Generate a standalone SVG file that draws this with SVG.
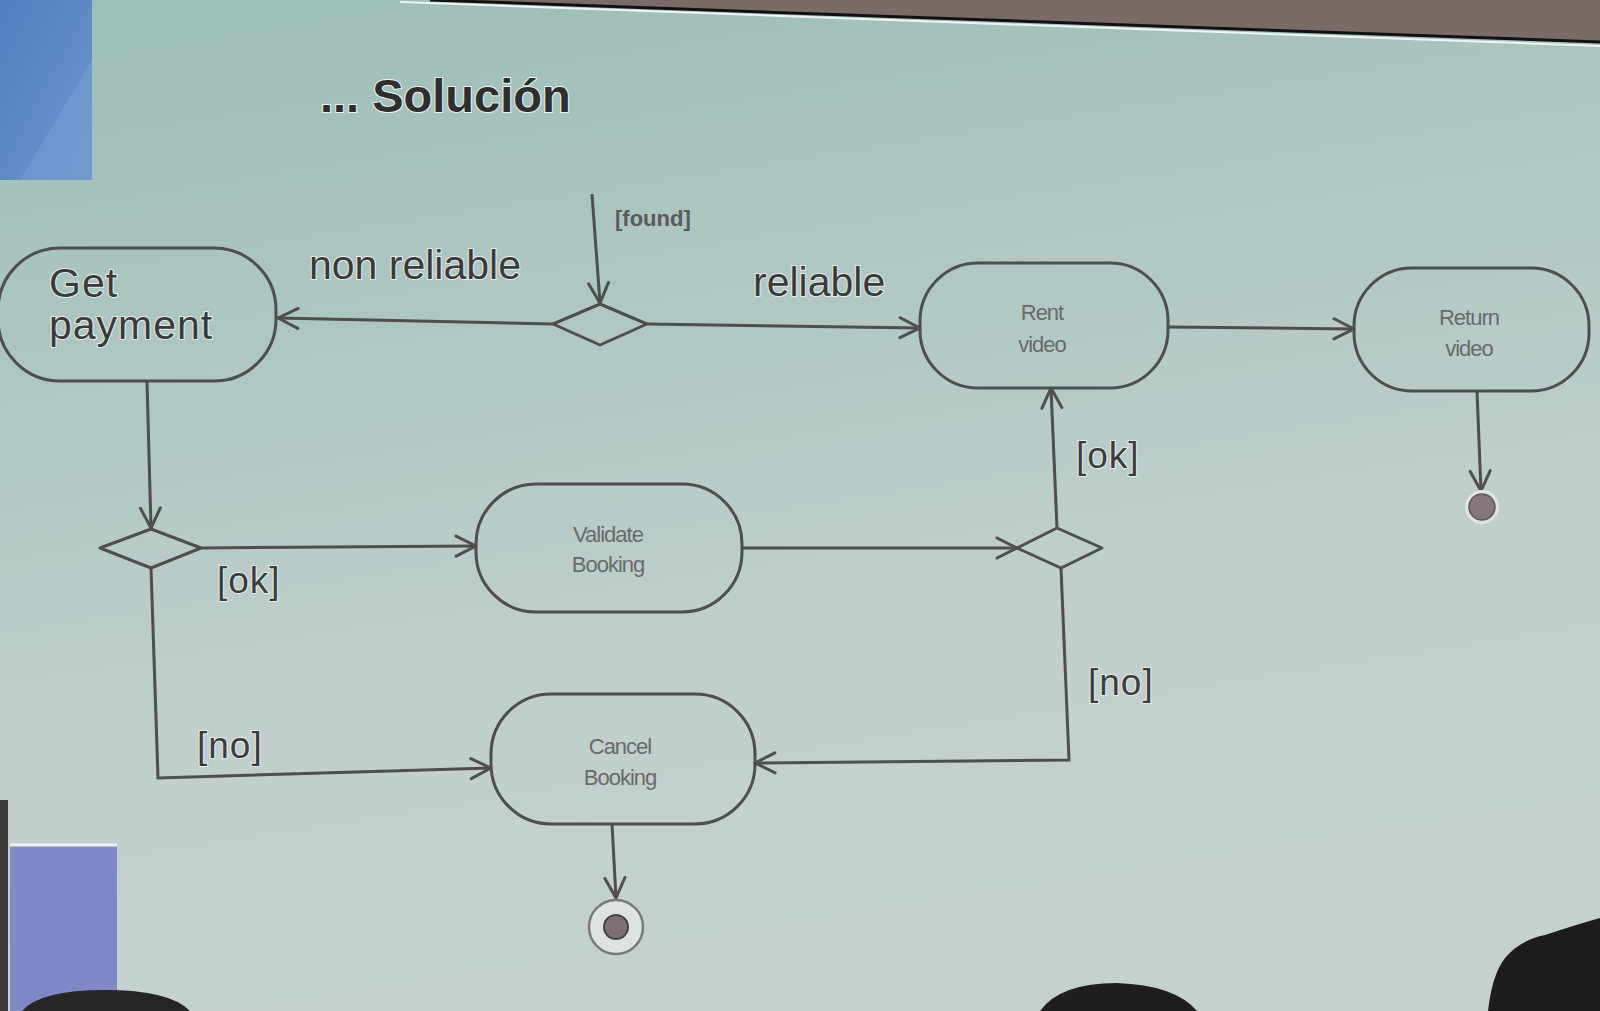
<svg xmlns="http://www.w3.org/2000/svg" width="1600" height="1011" viewBox="0 0 1600 1011">
  <defs>
    <linearGradient id="bg" x1="0" y1="0" x2="0.25" y2="1">
      <stop offset="0" stop-color="#9cbdb8"/>
      <stop offset="0.35" stop-color="#aec6c2"/>
      <stop offset="0.7" stop-color="#c0cfcc"/>
      <stop offset="1" stop-color="#c6d1cf"/>
    </linearGradient>
    <linearGradient id="blueTop" x1="0" y1="0" x2="1" y2="1">
      <stop offset="0" stop-color="#4f7fc0"/>
      <stop offset="1" stop-color="#6c95cf"/>
    </linearGradient>
    <marker id="arr" markerUnits="userSpaceOnUse" markerWidth="26" markerHeight="24" refX="23" refY="12" orient="auto">
      <path d="M3,2 L23,12 L3,22" fill="none" stroke="#4f4f4f" stroke-width="3" stroke-linejoin="round" stroke-linecap="round"/>
    </marker>
    <style>
      .node { fill: none; stroke: #4e4e4e; stroke-width: 3; }
      .dec { fill: none; stroke: #4e4e4e; stroke-width: 3; stroke-linejoin: round; }
      .edge { fill: none; stroke: #4e4e4e; stroke-width: 3; marker-end: url(#arr); }
      .big { font-family: "Liberation Sans", Arial, sans-serif; font-size: 41px; fill: #3a3a3a; stroke: #e6eeed; stroke-width: 2; paint-order: stroke; }
      .lbl { font-family: "Liberation Sans", Arial, sans-serif; font-size: 37px; fill: #3c3c3c; stroke: #e6eeed; stroke-width: 2; paint-order: stroke; letter-spacing: 1px; }
      .small { font-family: "Liberation Sans", Arial, sans-serif; font-size: 22px; fill: #6a6a6a; text-anchor: middle; letter-spacing: -1px; }
      .title { font-family: "Liberation Sans", Arial, sans-serif; font-size: 47px; font-weight: bold; fill: #2e2e2e; stroke: #eef3f2; stroke-width: 2; paint-order: stroke; }
    </style>
  </defs>

  <!-- background (photographed slide) -->
  <rect x="0" y="0" width="1600" height="1011" fill="url(#bg)"/>
  <polygon points="430,0 1600,0 1600,42" fill="#7a6b69"/>
  <polyline points="430,0 1600,42" fill="none" stroke="#111" stroke-width="3"/>
  <polyline points="400,2 1600,46" fill="none" stroke="#eef4f2" stroke-width="2"/>
  <rect x="0" y="0" width="92" height="180" fill="url(#blueTop)"/>
  <polygon points="20,180 92,60 92,180" fill="#7aa2d6" opacity="0.5"/>
  <rect x="10" y="845" width="107" height="166" fill="#8088c6"/>
  <line x1="10" y1="845" x2="117" y2="845" stroke="#eef2f5" stroke-width="3"/>
  <rect x="0" y="800" width="8" height="211" fill="#3a3a3a"/>
  <path d="M22,1011 Q40,990 105,990 Q170,990 190,1011 Z" fill="#262626"/>
  <path d="M1040,1011 Q1060,983 1117,983 Q1175,985 1197,1011 Z" fill="#1e1e1e"/>
  <path d="M1488,1011 Q1492,975 1505,958 Q1520,940 1545,935 Q1575,925 1600,918 L1600,1011 Z" fill="#1c1c1c"/>

  <text class="title" x="320" y="112">... Solución</text>

  <!-- connectors -->
  <g id="connectors">
    <path class="edge" d="M592,194 L600,303"/>
    <path class="edge" d="M553,324 L278,318"/>
    <path class="edge" d="M647,324 L920,328"/>
    <path class="edge" d="M1168,327 L1354,329"/>
    <path class="edge" d="M1477,391 L1481,491"/>
    <path class="edge" d="M147,381 L151,528"/>
    <path class="edge" d="M201,548 L476,546"/>
    <path class="edge" d="M742,548 L1017,548"/>
    <path class="edge" d="M1057,528 L1051,388"/>
    <path class="edge" d="M1061,568 L1069,760 L755,763"/>
    <path class="edge" d="M151,568 L158,778 L491,768"/>
    <path class="edge" d="M612,824 L616,898"/>
    <text x="615" y="226" font-family="Liberation Sans, Arial, sans-serif" font-size="22" font-weight="bold" fill="#5a5a5a">[found]</text>
    <text class="big" x="309" y="279" font-size="43">non reliable</text>
    <text class="big" x="753" y="296">reliable</text>
    <text class="lbl" x="217" y="593">[ok]</text>
    <text class="lbl" x="1076" y="468">[ok]</text>
    <text class="lbl" x="1088" y="695">[no]</text>
    <text class="lbl" x="197" y="758">[no]</text>
  </g>

  <!-- nodes -->
  <g id="get-payment">
    <rect class="node" x="-2" y="248" width="278" height="133" rx="62"/>
    <text class="big" font-size="37" letter-spacing="1"><tspan x="49" y="297">Get</tspan><tspan x="49" y="339">payment</tspan></text>
  </g>
  <g id="decision-found">
    <polygon class="dec" points="553,324 600,304 647,324 600,345"/>
  </g>
  <g id="rent-video">
    <rect class="node" x="920" y="263" width="248" height="125" rx="58"/>
    <text class="small" x="1042" y="320">Rent</text>
    <text class="small" x="1042" y="352">video</text>
  </g>
  <g id="return-video">
    <rect class="node" x="1354" y="268" width="235" height="123" rx="58"/>
    <text class="small" x="1469" y="325">Return</text>
    <text class="small" x="1469" y="356">video</text>
  </g>
  <g id="final-right">
    <circle cx="1482" cy="507" r="17" fill="#dfe5e4"/>
    <circle cx="1482" cy="507" r="13" fill="#85777a" stroke="#5a5a5a" stroke-width="1.5"/>
  </g>
  <g id="decision-payment">
    <polygon class="dec" points="100,548 151,529 201,548 151,568"/>
  </g>
  <g id="validate-booking">
    <rect class="node" x="476" y="484" width="266" height="128" rx="60"/>
    <text class="small" x="608" y="542">Validate</text>
    <text class="small" x="608" y="572">Booking</text>
  </g>
  <g id="decision-validate">
    <polygon class="dec" points="1017,548 1057,528 1102,548 1061,568"/>
  </g>
  <g id="cancel-booking">
    <rect class="node" x="491" y="694" width="264" height="130" rx="60"/>
    <text class="small" x="620" y="754">Cancel</text>
    <text class="small" x="620" y="785">Booking</text>
  </g>
  <g id="final-bottom">
    <circle cx="616" cy="927" r="27" fill="#dce3e2" stroke="#7a7a7a" stroke-width="2.5"/>
    <circle cx="616" cy="927" r="12" fill="#7d7072" stroke="#444" stroke-width="2"/>
  </g>
</svg>
